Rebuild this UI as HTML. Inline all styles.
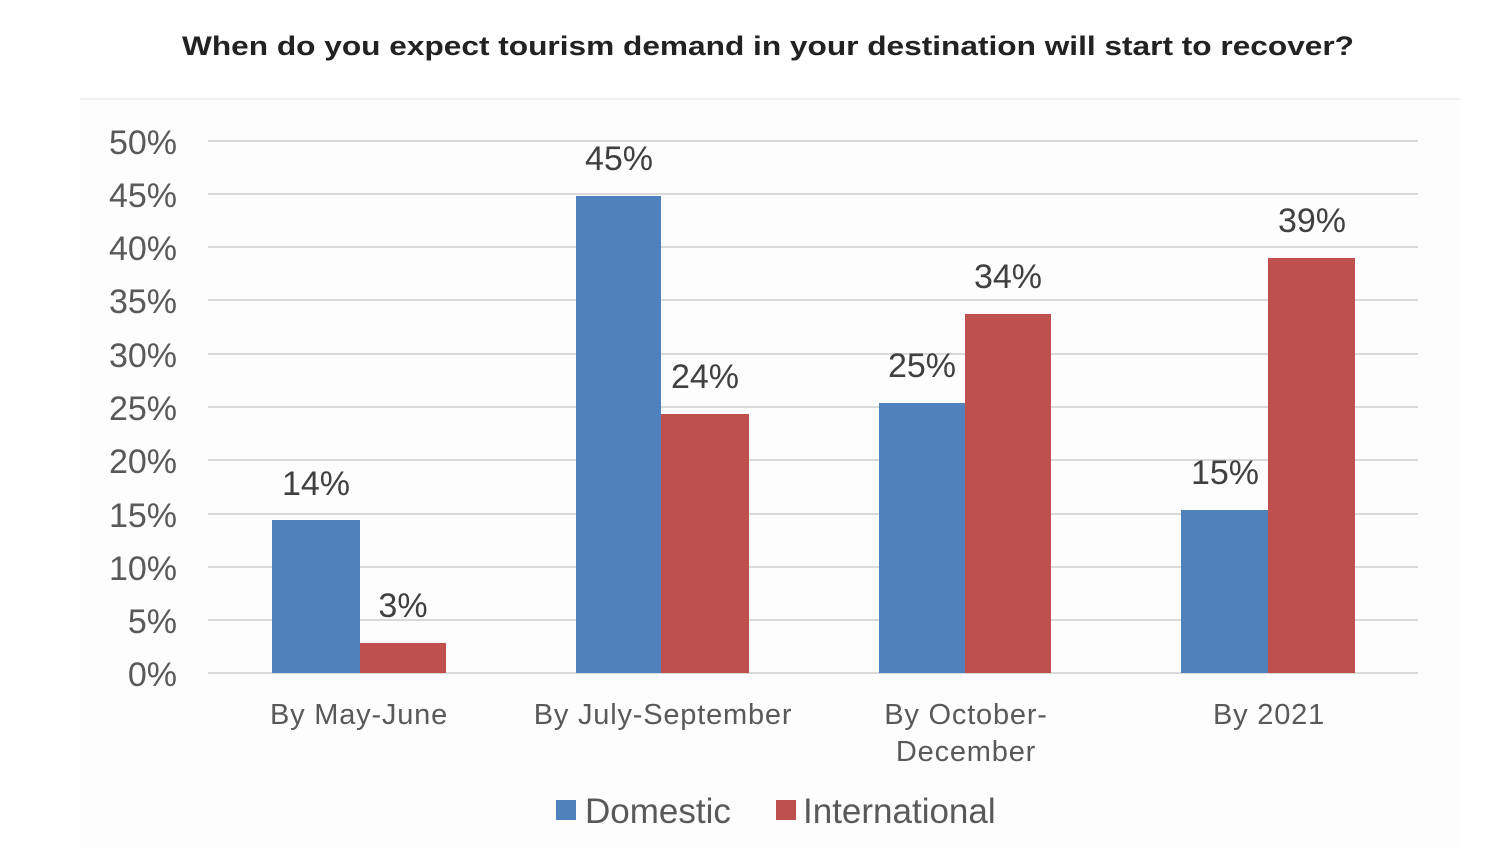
<!DOCTYPE html>
<html><head><meta charset="utf-8"><style>
html,body{margin:0;padding:0;background:#fff;}
svg{display:block;}
text{font-family:"Liberation Sans",sans-serif;}
</style></head><body>
<svg width="1505" height="848" viewBox="0 0 1505 848" xmlns="http://www.w3.org/2000/svg">
<rect width="1505" height="848" fill="#fff"/>
<rect x="80" y="98" width="1380" height="750" fill="#fdfdfe"/>
<line x1="80" y1="99" x2="1460" y2="99" stroke="#f0f0f0" stroke-width="2"/>
<text x="182" y="55" textLength="1172" lengthAdjust="spacingAndGlyphs" font-size="27" font-weight="bold" fill="#222">When do you expect tourism demand in your destination will start to recover?</text>
<g stroke="#d9d9d9" stroke-width="2">
<line x1="208" x2="1418" y1="141" y2="141"/><line x1="208" x2="1418" y1="194" y2="194"/>
<line x1="208" x2="1418" y1="247" y2="247"/><line x1="208" x2="1418" y1="300" y2="300"/>
<line x1="208" x2="1418" y1="354" y2="354"/><line x1="208" x2="1418" y1="407" y2="407"/>
<line x1="208" x2="1418" y1="460" y2="460"/><line x1="208" x2="1418" y1="514" y2="514"/>
<line x1="208" x2="1418" y1="567" y2="567"/><line x1="208" x2="1418" y1="620" y2="620"/>
<line x1="208" x2="1418" y1="673" y2="673"/>
</g>
<g font-size="34" fill="#595959" text-anchor="end">
<text x="177" y="154">50%</text><text x="177" y="207">45%</text><text x="177" y="260">40%</text>
<text x="177" y="313">35%</text><text x="177" y="367">30%</text><text x="177" y="420">25%</text>
<text x="177" y="473">20%</text><text x="177" y="527">15%</text><text x="177" y="580">10%</text>
<text x="177" y="633">5%</text><text x="177" y="686">0%</text>
</g>
<g fill="#4f81bd">
<rect x="272" y="520" width="88" height="153"/>
<rect x="576" y="196" width="85" height="477"/>
<rect x="879" y="403" width="86" height="270"/>
<rect x="1181" y="510" width="87" height="163"/>
</g>
<g fill="#c0504d">
<rect x="360" y="643" width="86" height="30"/>
<rect x="661" y="414" width="88" height="259"/>
<rect x="965" y="314" width="86" height="359"/>
<rect x="1268" y="258" width="87" height="415"/>
</g>
<g font-size="34" fill="#404040" text-anchor="middle">
<text x="316" y="495">14%</text><text x="403" y="617">3%</text>
<text x="619" y="170">45%</text><text x="705" y="388">24%</text>
<text x="922" y="377">25%</text><text x="1008" y="288">34%</text>
<text x="1225" y="484">15%</text><text x="1312" y="232">39%</text>
</g>
<g font-size="29" fill="#595959" text-anchor="middle" letter-spacing="0.8">
<text x="359" y="724">By May-June</text>
<text x="663" y="724">By July-September</text>
<text x="966" y="724">By October-</text>
<text x="966" y="761">December</text>
<text x="1269" y="724">By 2021</text>
</g>
<rect x="556" y="800" width="20" height="20" fill="#4f81bd"/>
<text x="585" y="823" font-size="35" fill="#595959">Domestic</text>
<rect x="776" y="800" width="20" height="20" fill="#c0504d"/>
<text x="803" y="823" font-size="35" fill="#595959">International</text>
</svg>
</body></html>
